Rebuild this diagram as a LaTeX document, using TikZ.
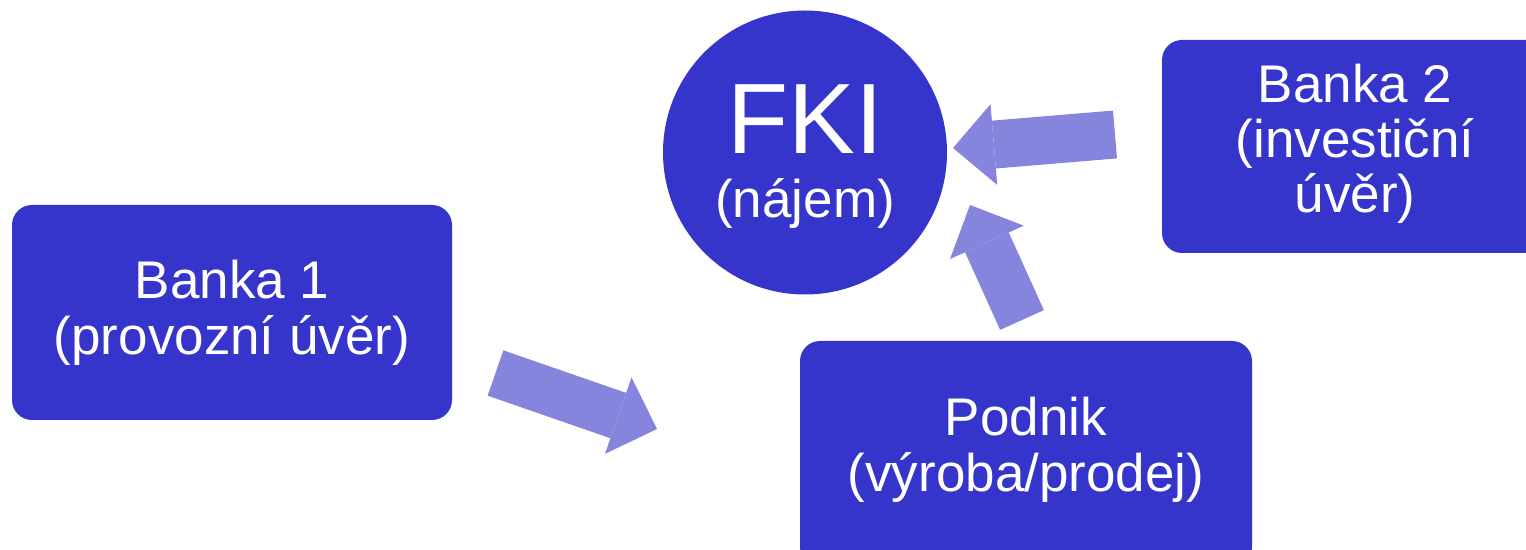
\documentclass[tikz,border=0pt]{standalone}
\usepackage{fontspec}
\setmainfont{Liberation Sans}
\usetikzlibrary{arrows.meta}
\definecolor{UverBlue}{HTML}{3535CC}
\definecolor{UverArrow}{HTML}{8585DD}

\begin{document}
\begin{tikzpicture}[x=0.5pt,y=-0.5pt,
    box/.style={fill=UverBlue,rounded corners=10pt,text=white,align=center,
      inner sep=0pt,font=\fontsize{26.5}{28}\selectfont,
      execute at begin node=\rule{0pt}{24.5pt}},
    flow/.style={UverArrow,line width=24pt,
      -{Triangle[length=20.5pt,width=40.5pt,line width=0pt]}}]
  \useasboundingbox (0,0) rectangle (1526,550);
  \clip (0,0) rectangle (1526,550);
  \node[box,minimum width=220pt,minimum height=107.5pt] (banka1) at (232,312.5)
    {Banka 1\\(provozní úvěr)};
  \node[box,minimum width=193pt,minimum height=106.5pt,text depth=8.6pt,
    font=\fontsize{26.5}{27.5}\selectfont] (banka2) at (1355,146.5)
    {Banka 2\\(investiční\\úvěr)};
  \node[box,minimum width=226pt,minimum height=113pt,text depth=9.5pt]
    (podnik) at (1026,454) {Podnik\\(výroba/prodej)};
  \node[circle,fill=UverBlue,text=white,align=center,inner sep=0pt,
    minimum size=142pt,font=\fontsize{26.5}{32}\selectfont] (fki) at (805,152.5)
    {{\fontsize{50}{60}\selectfont\rule{0pt}{39pt}FKI}\\(nájem)};
  % toky
  \coordinate (t1) at (495.5,373);  \coordinate (h1) at (657,429);
  \coordinate (t2) at (1022,320);   \coordinate (h2) at (970,205);
  \coordinate (t3) at (1115,134.5); \coordinate (h3) at (953,148);
  \draw[flow] (t1) -- (h1);
  \draw[flow] (t2) -- (h2);
  \draw[flow] (t3) -- (h3);
\end{tikzpicture}
\end{document}
